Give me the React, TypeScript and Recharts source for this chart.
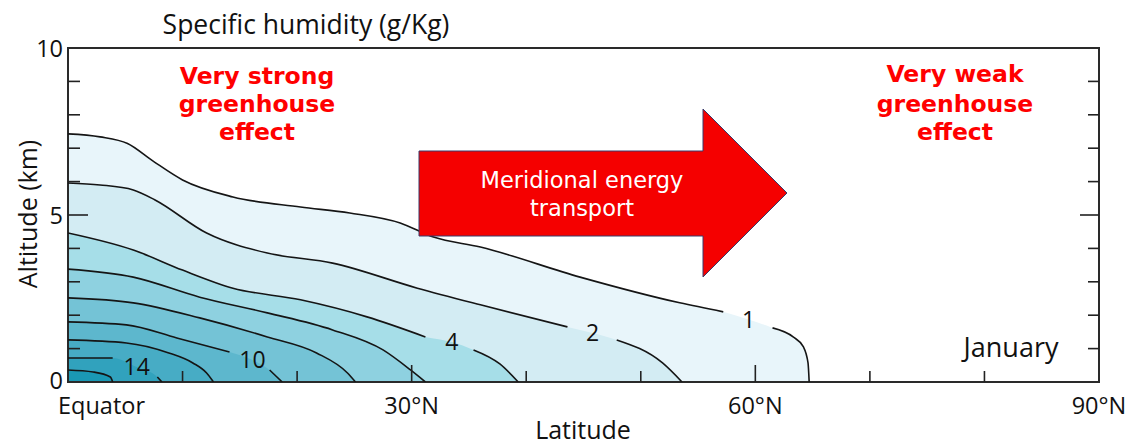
import React from "react";
import { ComposedChart, Area, Line, Scatter, XAxis, YAxis, ReferenceArea } from "recharts";

type Pt = { lat: number; alt: number; label?: string };
const mk = (rows: Array<[number, number, string?]>): Pt[] => rows.map(([lat, alt, label]) => ({ lat, alt, label }));

// contour lines: altitude (km) of each specific humidity isoline vs latitude (°N)
const q1 = mk([[0, 7.43], [2.8, 7.34], [5.2, 7.14], [7.4, 6.62], [10, 6.05], [14.4, 5.54], [20.3, 5.24], [24.6, 5.06], [29, 4.76], [31.9, 4.34], [36, 4.04], [44.7, 3.14], [53.4, 2.37], [57.2, 2.1], [59.4, 1.87, "1"], [61.5, 1.62], [63.3, 1.35], [64.2, 1.05], [64.6, 0.57], [64.7, 0]]);
const q2 = mk([[0, 5.96], [2.8, 5.9], [5.7, 5.75], [7.6, 5.45], [12.1, 4.46], [17.4, 3.86], [23.1, 3.56], [30.5, 2.81], [36, 2.31], [43.6, 1.65], [45.8, 1.47, "2"], [47.9, 1.26], [51.9, 0.57], [53.6, 0]]);
const q4 = mk([[0, 4.46], [5.7, 3.95], [10, 3.35], [14.4, 2.81], [20.3, 2.46], [26.1, 1.95], [31.2, 1.35], [33.5, 1.2, "4"], [35.4, 0.96], [37.7, 0.54], [39.3, 0]]);
const q6 = mk([[0, 3.38], [5.7, 3.14], [11.5, 2.54], [17.4, 2.07], [23.1, 1.56], [27.5, 0.96], [29.9, 0.36], [31.2, 0]]);
const q8 = mk([[0, 2.52], [5.7, 2.37], [11.5, 1.92], [17.4, 1.35], [21.7, 0.87], [24.4, 0.27], [25.1, 0]]);
const q10 = mk([[0, 1.8], [5.1, 1.71], [9.5, 1.32], [14.1, 0.9], [16.1, 0.66, "10"], [17.6, 0.36], [18.7, 0]]);
const q12 = mk([[0, 1.26], [5.1, 1.17], [8.8, 0.87], [10.9, 0.57], [12.1, 0.27], [12.7, 0]]);
const q14 = mk([[0, 0.72], [3.9, 0.72], [6.0, 0.45, "14"], [7.8, 0.15], [8.2, 0]]);
const q16 = mk([[0, 0.36], [2.2, 0.3], [3.7, 0.15], [3.9, 0]]);

const contours = [q1, q2, q4, q6, q8, q10, q12, q14, q16];
const fills = ["#e8f5fa", "#d3ecf3", "#a6dee8", "#8ed1e0", "#74c3d6", "#5db7cd", "#47acc5", "#31a2bd", "#1a98b4"];

const xTicks = [0, 10, 20, 30, 40, 50, 60, 70, 80, 90];
const xTickLabels: Record<number, string> = { 0: "Equator", 30: "30°N", 60: "60°N", 90: "90°N" };
const yTicks = [0, 1, 2, 3, 4, 5, 6, 7, 8, 9, 10];
const yTickLabels: Record<number, string> = { 0: "0", 5: "5", 10: "10" };

const labelPts = contours.flat().filter((p) => p.label);

const SANS = "'Open Sans', 'Noto Sans', sans-serif";
const BOLD = "'DejaVu Sans', Verdana, sans-serif";

const XTick = (props: any) => {
  const { x, y, payload } = props;
  const v = payload.value as number;
  const edge = v === 0 || v === 90;
  const len = v === 30 || v === 60 ? 17 : 11;
  const lbl = xTickLabels[v];
  return (
    <g>
      {!edge && <line x1={x} y1={y} x2={x} y2={y - len} stroke="#222" strokeWidth={1.6} />}
      {lbl && (
        <text x={v === 0 ? x - 10 : x} y={y + 32} textAnchor={v === 0 ? "start" : "middle"} fontFamily={SANS} fontSize={23.5} fill="#111">
          {lbl}
        </text>
      )}
    </g>
  );
};

const YTickL = (props: any) => {
  const { x, y, payload } = props;
  const v = payload.value as number;
  const edge = v === 0 || v === 10;
  const len = v === 5 ? 20 : 12;
  const lbl = yTickLabels[v];
  return (
    <g>
      {!edge && <line x1={x} y1={y} x2={x + len} y2={y} stroke="#222" strokeWidth={1.6} />}
      {lbl && (
        <text x={x - 5} y={y + (v === 0 ? 7 : 9)} textAnchor="end" fontFamily={SANS} fontSize={23.5} fill="#111">
          {lbl}
        </text>
      )}
    </g>
  );
};

const YTickR = (props: any) => {
  const { x, y, payload } = props;
  const v = payload.value as number;
  if (v === 0 || v === 10) return <g />;
  const len = v === 5 ? 19 : 11;
  return <line x1={x} y1={y} x2={x - len} y2={y} stroke="#222" strokeWidth={1.6} />;
};

const ContourLabel = (props: any) => {
  const { cx, cy, payload } = props;
  return (
    <text x={cx} y={cy + 8} textAnchor="middle" fontFamily={SANS} fontSize={23} fill="#111">
      {payload.label}
    </text>
  );
};

export default function App() {
  const W = 1120;
  const H = 437;
  return (
    <div style={{ position: "relative", width: W, height: H }}>
      <ComposedChart width={W} height={H} margin={{ top: 40, right: 9, bottom: 23, left: 10 }}>
        <XAxis
          type="number"
          dataKey="lat"
          domain={[0, 90]}
          ticks={xTicks}
          interval={0}
          tickSize={0}
          tickMargin={0}
          axisLine={false}
          tickLine={false}
          tick={<XTick />}
          height={40}
          allowDataOverflow
        />
        <YAxis yAxisId="l" type="number" domain={[0, 10]} ticks={yTicks} interval={0} tickSize={0} tickMargin={0} axisLine={false} tickLine={false} tick={<YTickL />} width={50} allowDataOverflow />
        <YAxis yAxisId="r" orientation="right" type="number" domain={[0, 10]} ticks={yTicks} interval={0} tickSize={0} tickMargin={0} axisLine={false} tickLine={false} tick={<YTickR />} width={20} allowDataOverflow />
        {contours.map((c, i) => (
          <Area
            key={"a" + i}
            yAxisId="l"
            data={c}
            dataKey="alt"
            type="monotone"
            stroke="none"
            fill={fills[i]}
            fillOpacity={1}
            isAnimationActive={false}
            dot={false}
            activeDot={false}
          />
        ))}
        {contours.map((c, i) => (
          <Line
            key={"l" + i}
            yAxisId="l"
            data={c}
            dataKey={(d: Pt) => (d.label ? null : d.alt)}
            type="monotone"
            stroke="#151515"
            strokeWidth={1.6}
            dot={false}
            activeDot={false}
            isAnimationActive={false}
          />
        ))}
        <Scatter yAxisId="l" data={labelPts} dataKey="alt" shape={<ContourLabel />} isAnimationActive={false} />
        <ReferenceArea yAxisId="l" x1={0} x2={90} y1={0} y2={10} fill="none" stroke="#2a2a2a" strokeWidth={2} />
      </ComposedChart>
      <svg width={W} height={H} style={{ position: "absolute", left: 0, top: 0, pointerEvents: "none", overflow: "visible" }}>
        <text x={298} y={26} textAnchor="middle" fontFamily={SANS} fontSize={26.5} fill="#111">
          Specific humidity (g/Kg)
        </text>
        <text transform="translate(19,206) rotate(-90)" textAnchor="middle" dominantBaseline="central" fontFamily={SANS} fontSize={25} fill="#111">
          Altitude (km)
        </text>
        <text x={575} y={431} textAnchor="middle" fontFamily={SANS} fontSize={25} fill="#111">
          Latitude
        </text>
        <g fontFamily={BOLD} fontWeight="bold" fontSize={23.5} fill="#ff0000" textAnchor="middle">
          <text x={249} y={76}>Very strong</text>
          <text x={249} y={104}>greenhouse</text>
          <text x={249} y={132}>effect</text>
          <text x={947} y={74}>Very weak</text>
          <text x={947} y={104}>greenhouse</text>
          <text x={947} y={132}>effect</text>
        </g>
        <polygon points="411,143 695,143 695,101 779,185 695,269 695,228 411,228" fill="#f50000" stroke="#3a3a6a" strokeWidth={1} />
        <g fontFamily={BOLD} fontSize={22.5} fill="#ffffff" textAnchor="middle">
          <text x={574} y={180}>Meridional energy</text>
          <text x={574} y={208}>transport</text>
        </g>
        <text x={1003} y={349} textAnchor="middle" fontFamily={SANS} fontSize={27} fill="#111">
          January
        </text>
      </svg>
    </div>
  );
}
